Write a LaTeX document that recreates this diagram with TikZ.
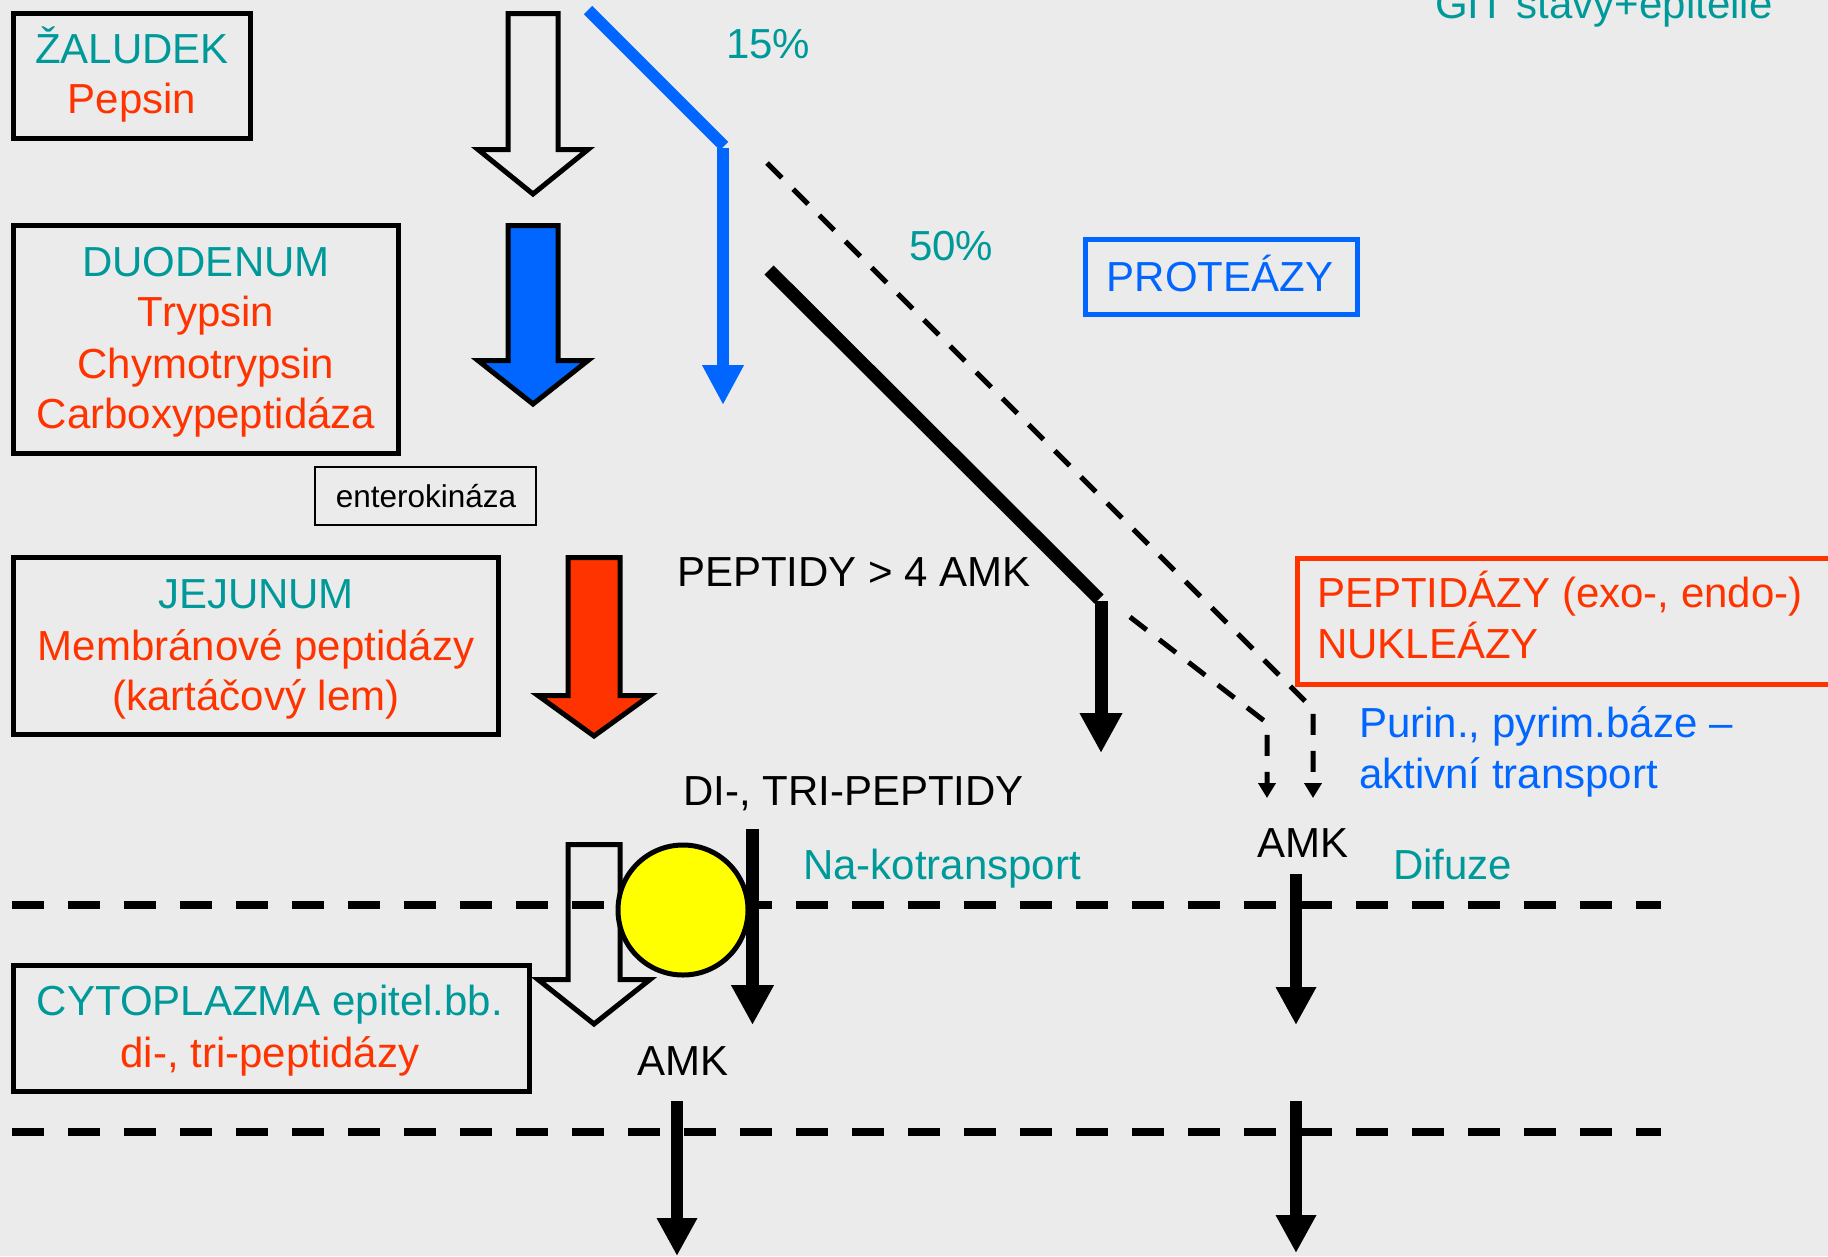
\documentclass[tikz,border=0pt]{standalone}
\usepackage{fontspec}
\setmainfont{Liberation Sans}
\usetikzlibrary{arrows.meta}
\definecolor{bgc}{HTML}{EBEBEB}
\definecolor{tealc}{HTML}{009999}
\definecolor{redc}{HTML}{FF3300}
\definecolor{bluec}{HTML}{0066FF}
\definecolor{yelc}{HTML}{FFFF00}
\begin{document}
\begin{tikzpicture}[x=1pt,y=-1pt,
  txt/.style={font=\fontsize{42pt}{50pt}\selectfont, inner sep=0pt},
  smalltxt/.style={font=\fontsize{31.5pt}{38pt}\selectfont, inner sep=0pt},
  bbox/.style={draw=black, line width=5pt, inner sep=0pt},
  blockarr/.style={draw=black, line width=5pt, line join=miter},
  fatarr/.style={line width=13pt, -{Triangle[length=40pt,width=40pt]}},
  midarr/.style={line width=12pt, -{Triangle[length=38pt,width=38pt]}},
  dasharr/.style={line width=5pt, dash pattern=on 21pt off 16pt, -{Triangle[length=15pt,width=17pt]}},
  membrane/.style={line width=8pt, dash pattern=on 32pt off 24pt}
]
\useasboundingbox (0,0) rectangle (1828,1256);
\clip (0,0) rectangle (1828,1256);
\fill[bgc] (0,0) rectangle (1828,1256);

% ---- boxes ----
\node[bbox, minimum width=237pt, minimum height=125pt] (zal) at (132,76) {};
\node[bbox, minimum width=385pt, minimum height=228pt] (duo) at (206,339.5) {};
\node[draw=black, line width=2pt, inner sep=0pt, minimum width=221pt, minimum height=58pt] (ent) at (425.5,496) {};
\node[bbox, minimum width=485pt, minimum height=177pt] (jej) at (256,646) {};
\node[bbox, minimum width=516pt, minimum height=126pt] (cyt) at (271.5,1028.5) {};
\node[draw=bluec, line width=5pt, inner sep=0pt, minimum width=272pt, minimum height=75pt] (prot) at (1221.5,277) {};
\node[draw=redc, line width=5pt, inner sep=0pt, minimum width=572pt, minimum height=126pt] (pept) at (1583.5,621.5) {};

% ---- box texts ----
\node[txt, tealc, anchor=base] (zal1) at (132,63) {ŽALUDEK};
\node[txt, redc, anchor=base] (zal2) at (132,113) {Pepsin};
\node[txt, tealc, anchor=base] (duo1) at (206,276) {DUODENUM};
\node[txt, redc, anchor=base] (duo2) at (206,326) {Trypsin};
\node[txt, redc, anchor=base] (duo3) at (206,378) {Chymotrypsin};
\node[txt, redc, anchor=base] (duo4) at (206,428) {Carboxypeptidáza};
\node[smalltxt, black, anchor=base] (ent1) at (426,507) {enterokináza};
\node[txt, tealc, anchor=base] (jej1) at (256,608) {JEJUNUM};
\node[txt, redc, anchor=base] (jej2) at (256,660) {Membránové peptidázy};
\node[txt, redc, anchor=base] (jej3) at (256,710) {(kartáčový lem)};
\node[txt, tealc, anchor=base] (cyt1) at (270,1015) {CYTOPLAZMA epitel.bb.};
\node[txt, redc, anchor=base] (cyt2) at (270,1067) {di-, tri-peptidázy};
\node[txt, bluec, anchor=base] (prot1) at (1220,291) {PROTEÁZY};
\node[txt, redc, anchor=base west] (pept1) at (1317,607) {PEPTIDÁZY (exo-, endo-)};
\node[txt, redc, anchor=base west] (pept2) at (1317,658) {NUKLEÁZY};

% ---- free texts ----
\node[txt, tealc, anchor=base west] (git) at (1435,18) {GIT stavy+epitelie};
\node[txt, tealc, anchor=base west] (p15) at (726,58) {15\%};
\node[txt, tealc, anchor=base west] (p50) at (909,260) {50\%};
\node[txt, black, anchor=base west] (pep4) at (677,586) {PEPTIDY > 4 AMK};
\node[txt, black, anchor=base west] (ditri) at (683,805) {DI-, TRI-PEPTIDY};
\node[txt, bluec, anchor=base west] (pur1) at (1359,737) {Purin., pyrim.báze –};
\node[txt, bluec, anchor=base west] (pur2) at (1359,788) {aktivní transport};
\node[txt, black, anchor=base] (amkr) at (1303,857) {AMK};
\node[txt, tealc, anchor=base west] (dif) at (1393,879) {Difuze};
\node[txt, tealc, anchor=base west] (nak) at (803,879) {Na-kotransport};
\node[txt, black, anchor=base] (amkl) at (683,1075) {AMK};

% ---- block arrows ----
\draw[blockarr] (508,13.5) -- (558,13.5) -- (558,149.5) -- (588,149.5) -- (533,194) -- (478,149.5) -- (508,149.5) -- cycle;
\draw[blockarr, fill=bluec] (508,225.5) -- (558,225.5) -- (558,360.5) -- (588,360.5) -- (533,404) -- (478,360.5) -- (508,360.5) -- cycle;
\draw[blockarr, fill=redc] (568,557.5) -- (620,557.5) -- (620,695.5) -- (650,695.5) -- (594,736) -- (538,695.5) -- (568,695.5) -- cycle;

% ---- membranes ----
\coordinate (m1a) at (12,905);
\coordinate (m1b) at (1661,905);
\coordinate (m2a) at (12,1132);
\coordinate (m2b) at (1661,1132);
\draw[membrane] (m1a) -- (m1b);
\draw[membrane] (m2a) -- (m2b);

% ---- lower hollow arrow and carrier ----
\draw[blockarr] (568,844.5) -- (620,844.5) -- (620,979.5) -- (650,979.5) -- (594,1024) -- (538,979.5) -- (568,979.5) -- cycle;
\node[circle, draw=black, line width=5pt, fill=yelc, minimum size=130pt, inner sep=0pt] (pump) at (683,910) {};

% ---- blue path ----
\coordinate (bl0) at (588,10);
\coordinate (bl1) at (724,146);
\coordinate (bl2) at (723,148);
\coordinate (bl3) at (723,405);
\draw[bluec, line width=12pt] (bl0) -- (bl1);
\draw[bluec, line width=12pt, -{Triangle[length=40pt,width=39pt]}] (bl2) -- (bl3);

% ---- black thick path ----
\coordinate (k0) at (769,270);
\coordinate (k1) at (1099,599);
\coordinate (k2) at (1101,601);
\coordinate (k3) at (1101,753);
\draw[line width=13pt] (k0) -- (k1);
\draw[fatarr] (k2) -- (k3);

% ---- dashed paths ----
\coordinate (d0) at (767,163);
\coordinate (d1) at (1313,709);
\coordinate (d2) at (1313,798);
\draw[dasharr] (d0) -- (d1) -- (d2);
\coordinate (e0) at (1130,617);
\coordinate (e1) at (1267,723);
\coordinate (e2) at (1267,798);
\draw[dasharr] (e0) -- (e1) -- (e2);

% ---- transport arrows ----
\coordinate (p0) at (752.5,829);
\coordinate (p1) at (752.5,1025);
\draw[fatarr] (p0) -- (p1);
\coordinate (q0) at (677,1101);
\coordinate (q1) at (677,1256);
\draw[midarr] (q0) -- (q1);
\coordinate (r0) at (1296,874);
\coordinate (r1) at (1296,1025);
\draw[midarr] (r0) -- (r1);
\coordinate (s0) at (1296,1101);
\coordinate (s1) at (1296,1253);
\draw[midarr] (s0) -- (s1);
\end{tikzpicture}
\end{document}
